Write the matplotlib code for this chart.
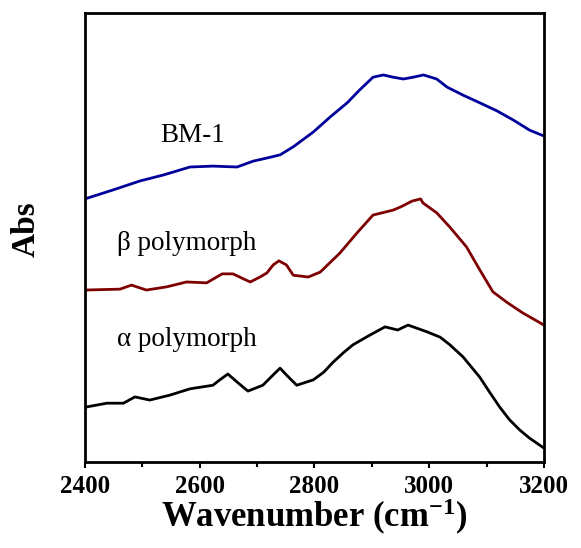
import matplotlib
matplotlib.use("Agg")
import matplotlib.pyplot as plt
from matplotlib.ticker import MultipleLocator, NullLocator

plt.rcParams["font.family"] = ["Liberation Serif", "DejaVu Serif"]
plt.rcParams["mathtext.fontset"] = "custom"
plt.rcParams["mathtext.rm"] = "Liberation Serif:bold"
plt.rcParams["mathtext.bf"] = "Liberation Serif:bold"
plt.rcParams["mathtext.it"] = "Liberation Serif:bold:italic"

# FTIR spectra, C-H stretching region (offset absorbance, arbitrary units)
bm1_wn = [2400, 2449, 2496, 2536, 2583, 2623, 2665, 2693, 2717, 2740, 2763, 2798,
          2827, 2857, 2879, 2902, 2920, 2937, 2955, 2972, 2990, 3013, 3031, 3059,
          3088, 3118, 3146, 3175, 3200]
bm1_abs = [0.586, 0.606, 0.626, 0.639, 0.657, 0.659, 0.657, 0.670, 0.677, 0.684,
           0.702, 0.735, 0.768, 0.800, 0.829, 0.857, 0.862, 0.857, 0.853, 0.857,
           0.862, 0.853, 0.835, 0.817, 0.800, 0.782, 0.762, 0.739, 0.726]

beta_wn = [2400, 2461, 2481, 2507, 2542, 2577, 2612, 2639, 2658, 2676, 2688, 2705,
           2717, 2728, 2738, 2751, 2763, 2789, 2810, 2844, 2874, 2902, 2937, 2950,
           2970, 2985, 2989, 3013, 3036, 3065, 3088, 3111, 3135, 3163, 3200]
beta_abs = [0.383, 0.385, 0.394, 0.383, 0.390, 0.401, 0.399, 0.419, 0.419, 0.408,
            0.401, 0.412, 0.421, 0.439, 0.448, 0.439, 0.416, 0.412, 0.423, 0.465,
            0.510, 0.550, 0.561, 0.568, 0.581, 0.586, 0.577, 0.555, 0.523, 0.479,
            0.428, 0.379, 0.356, 0.332, 0.305]

alpha_wn = [2400, 2438, 2467, 2487, 2513, 2548, 2583, 2623, 2635, 2649, 2667, 2684,
            2710, 2728, 2740, 2751, 2769, 2798, 2816, 2833, 2850, 2867, 2897, 2923,
            2945, 2963, 2996, 3019, 3036, 3059, 3088, 3105, 3123, 3140, 3158, 3175,
            3200]
alpha_abs = [0.122, 0.131, 0.131, 0.145, 0.138, 0.149, 0.163, 0.171, 0.183, 0.196,
             0.176, 0.158, 0.171, 0.194, 0.209, 0.194, 0.171, 0.183, 0.200, 0.223,
             0.243, 0.261, 0.283, 0.301, 0.294, 0.305, 0.290, 0.278, 0.261, 0.234,
             0.189, 0.156, 0.122, 0.094, 0.071, 0.053, 0.031]

series_names = ["BM-1", "\u03b2 polymorph", "\u03b1 polymorph"]
series_colors = ["#00009a", "#7f0000", "#000000"]

fig = plt.figure(figsize=(5.81, 5.48), dpi=100)
ax = fig.add_axes([0.1463, 0.1569, 0.79, 0.8194])

for wn, ab, c in zip([bm1_wn, beta_wn, alpha_wn],
                     [bm1_abs, beta_abs, alpha_abs], series_colors):
    ax.plot(wn, ab, color=c, lw=2.0, solid_joinstyle="round", solid_capstyle="round")

ax.set_xlim(2400, 3200)
ax.set_ylim(0, 1)

label_pos = [(2531, 0.713), (2456, 0.472), (2456, 0.258)]
for (x, y), name in zip(label_pos, series_names):
    ax.text(x, y, name, fontsize=19.5, va="baseline", ha="left", color="black")

ax.xaxis.set_major_locator(MultipleLocator(200))
ax.xaxis.set_minor_locator(MultipleLocator(100))
ax.yaxis.set_major_locator(NullLocator())
ax.yaxis.set_minor_locator(NullLocator())
ax.tick_params(axis="x", which="major", direction="out", length=4.5, width=1.5,
               pad=5, labelsize=18)
ax.tick_params(axis="x", which="minor", direction="out", length=3.5, width=1.5)
for lbl in ax.get_xticklabels():
    lbl.set_fontweight("bold")
for sp in ax.spines.values():
    sp.set_linewidth(2.0)

ax.set_xlabel("Wavenumber (cm$^{\\mathregular{\u2212}1}$)", fontsize=25,
              fontweight="bold")
ax.set_ylabel("Abs", fontsize=24, fontweight="bold")
ax.xaxis.set_label_coords(0.5, -0.078)
ax.xaxis.label.set_va("top")
ax.yaxis.set_label_coords(-0.095, 0.519)

fig.savefig("out.png", dpi=100)
